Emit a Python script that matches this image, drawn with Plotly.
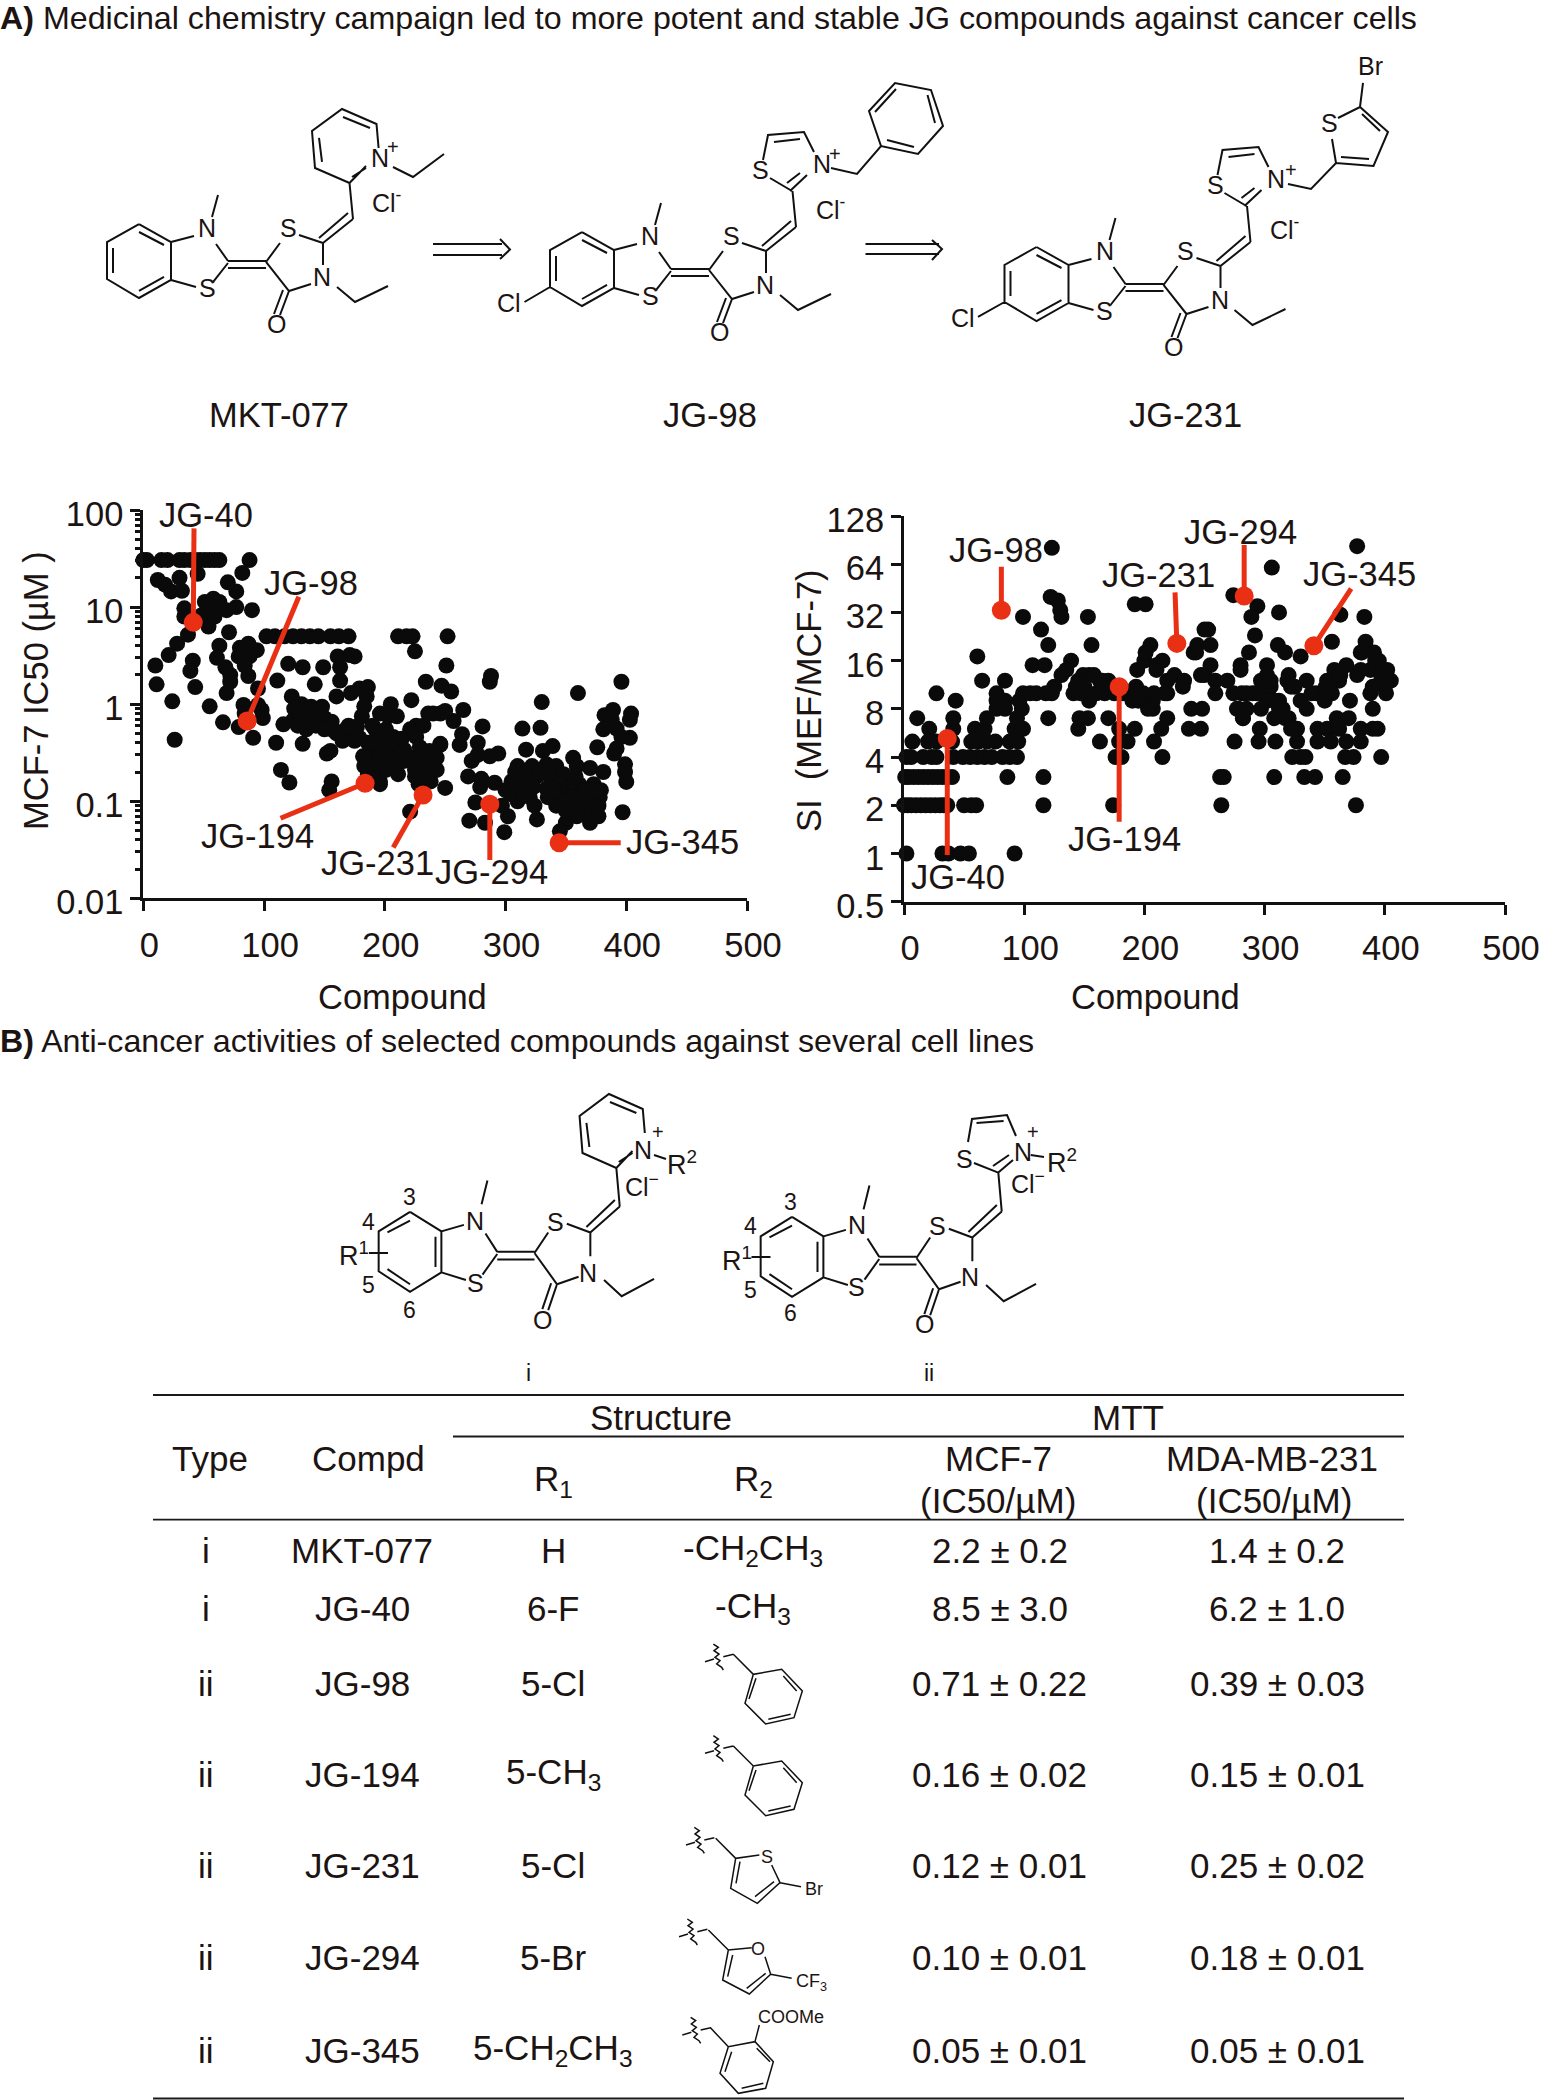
import math
import plotly.graph_objects as go

W, H = 1546, 2100
FONT = "Liberation Sans"
INK = "#1c1412"
RED = "#e92f14"

# ---------- chart data ----------
mcf7_compound = [
 0,3,15,20,30,34,39,43,47,51,55,59,63,88,
 30,45,82,12,18,23,32,70,77,
 34,34,51,58,63,57,59,69,77,90,54,48,
 37,28,21,10,11,24,41,39,43,26,55,66,79,91,
 102,109,117,124,131,138,145,155,162,170,
 71,63,61,68,72,72,69,80,87,94,79,88,84,87,95,83,95,99,98,84,
 120,132,149,111,142,160,123,131,139,148,127,135,124,116,141,150,156,148,157,166,171,155,152,110,132,114,121,156,154,
 161,171,175,163,163,172,179,186,185,183,181,177,
 211,218,223,225,
 234,247,222,205,196,203,210,236,246,226,221,232,192,201,194,207,214,188,197,207,226,229,237,246,
 182,190,201,212,222,233,243,183,193,201,225,233,243,196,225,234,221,
 252,251,255,288,287,396,330,360,265,250,240,257,281,314,329,264,262,277,317,246,331,339,376,294,287,272,277,
 310,322,334,342,356,359,370,381,269,280,291,305,315,326,338,350,361,373,379,250,279,312,323,334,346,359,370,
 275,305,310,324,342,353,367,375,297,302,299,270,283,326,350,359,370,377,345,397,
 389,382,404,388,403,381,392,403,396,390,392,399,399,400,
 186,191,196,201,206,211,216,186,191,196,206,216,228,238,232,240,
 308,318,328,338,348,358,368,378,
 300,304,345,350,355,363,372,377,
 125,130,137,143,150,160,135,128,143,165,175,170,190,179,
 315,320,335,345,355,365,375,360,350,340,
]
mcf7_ic50 = [
 30.5,30.5,30.5,30.5,30.5,30.5,30.5,30.5,30.5,30.5,30.5,30.5,30.5,30.5,
 20,22,22.5,19,17,14.5,14.7,18,14.5,
 9.7,8,11.3,12.2,11.3,9.3,8,9.3,10,9.3,6.3,8.2,
 5.2,4.2,3.2,2.5,1.6,1.07,2.8,2.2,1.5,0.43,0.95,0.65,0.58,0.45,
 5,5,5,5,5,5,5,5,5,5,
 5.5,4,3,2.4,2,1.7,1.3,3.8,4.2,3.6,3.1,3.1,2.5,1.95,1.45,0.98,0.98,0.72,0.87,0.8,
 2.6,2.4,2.4,1.75,1.6,1.2,1.2,1,0.94,0.94,0.8,0.8,0.68,0.62,0.65,0.72,0.66,0.59,0.54,0.53,0.53,0.33,0.31,0.4,0.39,0.21,0.156,0.16,0.13,
 3.1,3.2,3.1,2.4,1.75,1.3,1.45,1.5,1.2,0.95,0.75,0.59,
 5,5,5,3.5,
 1.7,1.55,1.1,1,0.8,0.75,0.75,0.8,0.8,0.6,0.55,0.6,0.55,0.55,0.45,0.46,0.44,0.33,0.33,0.33,0.46,0.36,0.33,0.38,
 0.29,0.27,0.28,0.29,0.28,0.29,0.28,0.23,0.21,0.21,0.21,0.21,0.21,0.16,0.18,0.18,0.078,
 5,2.5,1.35,1.95,1.7,1.7,1.05,1.3,0.87,0.85,0.8,0.67,0.59,0.56,0.57,0.49,0.38,0.4,0.34,0.39,0.33,0.37,0.36,0.31,0.29,0.26,0.3,
 0.23,0.23,0.24,0.23,0.28,0.23,0.22,0.2,0.18,0.17,0.155,0.16,0.17,0.18,0.165,0.15,0.15,0.15,0.13,0.137,0.14,0.135,0.14,0.135,0.12,0.135,0.12,
 0.097,0.118,0.1,0.09,0.09,0.095,0.09,0.1,0.09,0.07,0.048,0.063,0.06,0.065,0.06,0.07,0.06,0.07,0.049,0.077,
 0.87,0.77,0.8,0.69,0.69,0.55,0.56,0.45,0.46,0.31,0.35,0.24,0.2,0.158,
 0.19,0.24,0.3,0.37,0.24,0.19,0.34,0.4,0.17,0.15,0.42,0.26,0.15,0.16,0.23,0.23,
 0.2,0.2,0.2,0.19,0.19,0.18,0.11,0.11,
 0.13,0.12,0.15,0.08,0.11,0.075,0.08,0.09,
 0.9,0.75,0.7,0.6,0.55,0.5,0.55,0.6,0.8,0.42,0.42,0.6,0.6,0.45,
 0.12,0.11,0.11,0.15,0.11,0.13,0.13,0.09,0.1,0.13,
]
mcf7_hit_names = ["JG-40","JG-98","JG-194","JG-231","JG-294","JG-345"]
mcf7_hit_compound = [41.4,86,183.7,231.7,287,344.4]
mcf7_hit_ic50 = [6.96,0.67,0.153,0.116,0.093,0.0374]
mcf7_lead_compound = [42,128.8,113.7,207,287,395.4]
mcf7_lead_ic50 = [64.7,12.8,0.0667,0.0333,0.0248,0.0374]

si_compound = [
 2,32,37,47,54,92,
 0,3,6,10,14,18,22,26,30,33,36,50,56,60,116,174,
 1,4,8,12,16,20,24,28,32,36,40,86,116,
 2,6,16,23,27,41,49,55,61,67,73,82,88,94,181,176,215,
 7,20,27,40,56,62,69,76,88,95,163,186,179,208,
 21,41,59,67,92,99,145,179,192,214,
 11,41,69,94,120,146,153,170,219,
 77,84,98,207,239,248,
 43,77,84,96,154,201,207,
 27,77,99,105,110,123,141,147,160,167,175,182,190,199,208,219,
 123,122,128,130,131,99,114,120,153,156,61,65,84,107,117,192,201,
 139,135,131,125,118,154,149,163,170,179,143,193,219,225,233,232,
 194,200,215,205,201,210,250,241,244,250,217,210,
 237,247,
 377,306,274,294,289,312,363,383,253,243,255,292,311,317,330,356,384,380,391,395,402,287,280,280,302,302,255,247,259,269,320,335,322,330,335,343,351,350,358,368,362,377,388,400,388,401,371,390,
 259,274,281,290,305,298,312,278,285,297,282,315,320,326,296,295,309,275,327,
 344,352,360,370,362,380,390,394,344,355,368,380,
 323,330,334,367,374,397,263,266,308,333,342,365,264,376,
 145,150,158,165,172,186,195,190,203,
 308,312,317,322,327,308,302,282,277,293,285,297,305,319,325,339,356,352,363,380,393,397,405,392,381,390,
]
si_ratio = [
 1,1,1,1,1,1,
 2,2,2,2,2,2,2,2,2,2,2,2,2,2,2,2,
 3,3,3,3,3,3,3,3,3,3,3,3,3,
 4,4,4,4,4,4,4,4,4,4,4,4,4,4,4,4,4,
 5,5,5,5,5,5,5,5,5,5,5,5,5,5,
 6,6,6,6,6,6,6,6,6,6,
 7,7,7,7,7,7,7,7,7,
 8,8,8,8,8,8,
 9,9,9,9,9,9,9,
 10,10,10,10,10,10,10,10,10,10,10,10,10,10,10,10,
 81,40,38,33,30,30,25,20,30,20,17,12,12,15,15,36,36,
 16,14,13,11,10,13,13,12,12,11,11,11,12,13,12,11,
 14,16,16,20,18,15,25,18,20,13,10,14,
 6,6,
 83,61,41,35,30,32,31,30,25,18,20,23,20,18,17,21,21,18,18,16,14,18,15,14,15,13,15,13,12,12,13,12,11,9,8,10,11,9,14,15,12,13,14,11,10,10,9,8,
 10,10,10,10,11,10,9,8,8,8,7,8,7,6,6,5,5,5,5,
 6,6,7,7,6,6,6,6,5,5,5,5,
 4,4,4,4,4,4,3,3,3,3,3,3,2,2,
 12,11,13,12,11,10,9,9,8,
 9,8,7,6,6,7,9,7,8,10,10,12,12,12,11,10,10,12,13,14,14,12,12,16,18,11,
]
si_hit_names = ["JG-40","JG-98","JG-194","JG-231","JG-294","JG-345"]
si_hit_compound = [36,81,179,227,283,341]
si_hit_ratio = [5.23,33,11,20.5,40.5,19.8]
si_lead_compound = [36,81,179,225.5,283,372]
si_lead_ratio = [0.98,61.8,1.58,42.7,84.5,45]

compound_ticks = [0,100,200,300,400,500]
mcf7_ticks = [100,10,1,0.1,0.01]
si_ticks = [128,64,32,16,8,4,2,1,0.5]

# ---------- table ----------
tbl_type = ["i","i","ii","ii","ii","ii","ii"]
tbl_compd = ["MKT-077","JG-40","JG-98","JG-194","JG-231","JG-294","JG-345"]
tbl_r1 = ["H","6-F","5-Cl","5-CH<sub>3</sub>","5-Cl","5-Br","5-CH<sub>2</sub>CH<sub>3</sub>"]
tbl_r2 = ["-CH<sub>2</sub>CH<sub>3</sub>","-CH<sub>3</sub>","","","","",""]
tbl_mcf7 = ["2.2 ± 0.2","8.5 ± 3.0","0.71 ± 0.22","0.16 ± 0.02","0.12 ± 0.01","0.10 ± 0.01","0.05 ± 0.01"]
tbl_mda = ["1.4 ± 0.2","6.2 ± 1.0","0.39 ± 0.03","0.15 ± 0.01","0.25 ± 0.02","0.18 ± 0.01","0.05 ± 0.01"]

# ---------- page helpers ----------
annotations, shapes = [], []
def px(x): return x / W
def py(y): return 1 - y / H

def txt(x, y, s, size=34.5, anchor="center", color=INK, angle=0):
    annotations.append(dict(x=px(x), y=py(y), xref="paper", yref="paper", text=s, showarrow=False,
                            xanchor=anchor, yanchor="middle", textangle=angle,
                            font=dict(family=FONT, size=size, color=color), borderpad=0, borderwidth=0))

def draw(polys, width=2, color="#111111"):
    d = ""
    for p in polys:
        d += "M" + " L".join(f"{px(a):.5f},{py(b):.5f}" for a, b in p) + " "
    shapes.append(dict(type="path", xref="paper", yref="paper", path=d,
                       line=dict(color=color, width=width), layer="above"))

def place(polys, ox=0, oy=0, sx=1, sy=1):
    return [[(ox + sx * a, oy + sy * b) for a, b in p] for p in polys]

# molecule templates: page pixels of the MKT-077 drawing
CORE = [
 [(139,224),(171,242),(171,280),(139,298),(107,279),(107,242),(139,224)],
 [(171,242),(194,236)], [(171,280),(196,287)], [(212,217),(218,195)],
 [(216,244),(228,261)], [(213,282),(228,263)],
 [(228,261),(266,261)], [(228,268),(266,268)],
 [(266,262),(280,243)], [(299,235),(323,243),(323,265)],
 [(311,284),(289,291),(266,262)], [(289,291),(280,315)], [(283,290),(274,314)],
 [(337,287),(355,302),(388,286)],
 [(323,243),(353,219)], [(319,238),(348,213)],
 [(353,219),(349.5,183)],
]
INNER_A = [[(139,232),(164,245)], [(113,248),(113,273)], [(139,291),(164,277)]]
INNER_B = [[(116,243),(139,232)], [(165,247),(165,275)], [(116,277),(139,291)]]
PYRIDINE = [
 [(366,166),(349.5,183),(315,168),(312,131),(342,109),(376.5,124),(378.6,148)],
 [(319,138),(322,162)], [(343,117),(370,128)], [(352,177),(366,168)],
]
THIAZOLE = [
 [(792,191),(770,178)], [(763,160),(768,135),(804,132),(814,152)],
 [(807,175),(790,191)], [(774,142),(800,139)], [(800,173),(787,183)],
]

def wave(ox, oy):
    pts = [(340,72),(355,82),(342,92),(357,102),(345,112),(360,122),(350,132),(365,142),(370,150)]
    return [[(a + ox, b + oy) for a, b in pts], [(315 + ox, 125 + oy), (342 + ox, 117 + oy)], [(370 + ox, 110 + oy), (400 + ox, 103 + oy)]]

# MKT-077
draw(CORE + INNER_A + PYRIDINE + [[(393,167),(413,177),(444,154)]])
# JG-98
draw(place(CORE + INNER_A, 443, 8) + THIAZOLE + [[(524.5,302),(550,287)]] + [
 [(831,168),(857,174),(881,146),(918,154),(943,126),(931,90),(895,83),(869,111),(881,146)],
 [(887,140),(914,147)], [(927.5,95),(935,123)], [(896,89),(875,112)],
])
# JG-231
draw(place(CORE + INNER_A, 897.5, 23) + place(THIAZOLE, 454.5, 15) + [[(978,317),(1004.5,302)]] + [
 [(1288,184),(1311,189),(1336,163),(1373.5,166),(1388,132),(1360,107),(1338,118)],
 [(1336,163),(1332,139)], [(1341,157),(1369,159)], [(1362,114),(1380,131)], [(1360,107),(1363,83)],
])
# arrows
draw([[(433,244),(502,244)], [(433,255),(502,255)], [(500,239),(510,249.5),(500,259)],
      [(865.5,244),(939,244)], [(865.5,254),(939,254)], [(932,240),(942,249),(932,260)]])
# general structures i / ii
draw(place(CORE + INNER_B, 273.8, 970, 0.98, 1.08) + place(PYRIDINE, 273.8, 985, 0.98, 1) +
     [[(654,1155),(666,1159)], [(369,1253),(388,1253)]])
draw(place(CORE + INNER_B, 655.8, 975, 0.98, 1.08) + [
 [(998.3,1172.6),(974,1163)], [(968,1142),(972,1119),(1007,1115),(1016,1136)],
 [(998.3,1172.6),(1013,1160)], [(976.5,1123),(1003.6,1121)], [(993,1166),(1009,1155)],
 [(1030.7,1155),(1044,1157)], [(751.5,1257),(770.5,1257)],
])
# R2 substituents
s6 = lambda polys: place(polys, 600, 1620, 1/3, 1/3)
benzyl = [[(400,103),(460,163),(545,148),(607,213),(582,293),(497,312),(435,250),(460,163)],
          [(447,237),(468,175)], [(550,168),(590,213)], [(572,283),(505,298)]]
draw(s6(wave(0,0) + benzyl), 1.5)
draw(s6(wave(0,275) + place(benzyl,0,275)), 1.5)
draw(s6(wave(-57,550) + [[(347,655),(407,715),(478,705)], [(515,735),(540,788),(472,850),(392,805),(407,715)],
        [(420,725),(408,790)], [(465,830),(522,785)], [(540,788),(603,800)]]), 1.5)
draw(s6(wave(-78,825) + [[(325,930),(385,990),(455,983)], [(495,1010),(512,1063),(448,1122),(368,1080),(385,990)],
        [(398,1005),(383,1070)], [(440,1105),(497,1060)], [(512,1063),(575,1075)]]), 1.5)
draw(s6(wave(-68,1120) + [[(330,1222),(385,1280),(465,1265),(520,1325),(497,1405),(415,1420),(360,1360),(385,1280)],
        [(395,1295),(375,1355)], [(470,1285),(510,1325)], [(425,1405),(490,1390)], [(465,1265),(478,1215)]]), 1.5)

# atom labels
A = 25
N = 23
for dx, dy in [(0,0),(443,8),(897.5,23)]:
    txt(207+dx,228+dy,"N",A); txt(207+dx,288+dy,"S",A); txt(288+dx,228+dy,"S",A)
    txt(322+dx,277+dy,"N",A); txt(276+dx,324+dy,"O",A)
txt(380,158,"N",A); txt(393,147,"+",20)
txt(387,201,"Cl<sup>-</sup>",A)
txt(509,303,"Cl",A); txt(760,170,"S",A); txt(821.5,164,"N",A); txt(835,154,"+",20); txt(831,208,"Cl<sup>-</sup>",A)
txt(963,318,"Cl",A); txt(1215,185,"S",A); txt(1276,179,"N",A); txt(1290.5,170,"+",20); txt(1285,228,"Cl<sup>-</sup>",A)
txt(1329,123,"S",A); txt(1370,66,"Br",A)
for lab, x in [("MKT-077",279),("JG-98",710),("JG-231",1185.5)]:
    txt(x,415,lab)
for dx, dy in [(0,0),(382,4)]:
    txt(475+dx,1221+dy,"N",A); txt(475+dx,1283+dy,"S",A); txt(555+dx,1222+dy,"S",A)
    txt(588+dx,1273+dy,"N",A); txt(542+dx,1320+dy,"O",A)
txt(643,1150,"N",A); txt(658,1132,"+",20); txt(682,1163,"R<sup>2</sup>",27); txt(642,1185,"Cl<sup>−</sup>",A)
txt(409,1197,"3",N); txt(368,1222,"4",N); txt(354,1254,"R<sup>1</sup>",27); txt(368,1285,"5",N); txt(409,1310,"6",N)
txt(528,1373,"i",N)
txt(964.6,1159,"S",A); txt(1022.5,1152,"N",A); txt(1033.4,1132,"+",20); txt(1062,1161,"R<sup>2</sup>",27); txt(1028,1182,"Cl<sup>−</sup>",A)
txt(790.6,1202,"3",N); txt(750,1226,"4",N); txt(737,1259,"R<sup>1</sup>",27); txt(750,1290,"5",N); txt(790.6,1313,"6",N)
txt(929,1373,"ii",N)
S = 18
txt(766.7,1857,"S",S); txt(814,1889,"Br",S)
txt(758,1949,"O",S); txt(811,1982,"CF<sub>3</sub>",S)
txt(791,2017,"COOMe",S)

# section headings
txt(0,1041,"<b>B)</b> Anti-cancer activities of selected compounds against several cell lines",32.2,"left")

# scatter annotations
for n, (x, y) in zip(mcf7_hit_names, [(206,515),(311,583),(257,836),(377,863),(491,872),(682,842)]):
    txt(x, y, n)
for n, (x, y) in zip(si_hit_names, [(958,877),(996,550),(1124,839),(1158,575),(1240,532),(1359,574)]):
    txt(x, y, n)
txt(36,691,"MCF-7 IC50 (µM )",34.5,angle=-90)
txt(809,701,"SI  (MEF/MCF-7)",34.5,angle=-90)
txt(403,997,"Compound"); txt(1155,997,"Compound")

# table
T = 35
for y, x0 in [(1395,153),(1436.5,453),(1519.6,153),(2098.5,153)]:
    shapes.append(dict(type="line", xref="paper", yref="paper", x0=px(x0), x1=px(1404), y0=py(y), y1=py(y),
                       line=dict(color="#1a1a1a", width=1.8)))
txt(210,1458,"Type",T); txt(368,1458,"Compd",T); txt(661,1417,"Structure",T); txt(1127.5,1417,"MTT",T)
txt(553,1481,"R<sub>1</sub>",T); txt(753.6,1481,"R<sub>2</sub>",T)
txt(998,1458,"MCF-7",T); txt(998,1500,"(IC50/µM)",T); txt(1272,1458,"MDA-MB-231",T); txt(1274,1500,"(IC50/µM)",T)
rows_y = [1550,1608,1683,1774,1865,1957,2050]
for i, y in enumerate(rows_y):
    txt(206,y,tbl_type[i],T); txt(362,y,tbl_compd[i],T); txt(553,y,tbl_r1[i],T)
    if tbl_r2[i]:
        txt(753,y,tbl_r2[i],T)
    txt(1000,y,tbl_mcf7[i],T); txt(1277,y,tbl_mda[i],T)

# ---------- figure ----------
fig = go.Figure()
def scatter(x, y, ax, ay, hx, hy, lx, ly):
    fig.add_trace(go.Scatter(x=x, y=y, mode="markers", xaxis=ax, yaxis=ay, cliponaxis=False,
                             marker=dict(size=16, color="#0a0a0a", line=dict(width=0))))
    for a, b, c, d in zip(hx, hy, lx, ly):
        fig.add_trace(go.Scatter(x=[a, c], y=[b, d], mode="lines", xaxis=ax, yaxis=ay, cliponaxis=False,
                                 line=dict(color=RED, width=5)))
    fig.add_trace(go.Scatter(x=hx, y=hy, mode="markers", xaxis=ax, yaxis=ay, cliponaxis=False,
                             marker=dict(size=19, color=RED, line=dict(width=0))))
scatter(mcf7_compound, mcf7_ic50, "x", "y", mcf7_hit_compound, mcf7_hit_ic50, mcf7_lead_compound, mcf7_lead_ic50)
scatter(si_compound, si_ratio, "x2", "y2", si_hit_compound, si_hit_ratio, si_lead_compound, si_lead_ratio)

def xax(d0, d1, anchor):
    return dict(domain=[px(d0), px(d1)], range=[0, 500], anchor=anchor, tickmode="array", tickvals=compound_ticks,
                ticktext=[str(v) for v in compound_ticks], showline=True, linecolor="#111", linewidth=3,
                ticks="outside", ticklen=10, tickwidth=3, tickcolor="#111", showgrid=False, zeroline=False,
                automargin=False,
                tickfont=dict(family=FONT, size=34.5, color=INK), ticklabelstandoff=4, ticklabelshift=6)
def yax(d0, d1, anchor, rng, vals):
    return dict(domain=[py(d1), py(d0)], type="log", range=rng, anchor=anchor, tickmode="array", tickvals=vals,
                ticktext=[str(v) for v in vals], showline=True, linecolor="#111", linewidth=3,
                ticks="outside", ticklen=10, tickwidth=3, tickcolor="#111", showgrid=False, zeroline=False,
                automargin=False,
                tickfont=dict(family=FONT, size=34.5, color=INK), ticklabelstandoff=0, ticklabelshift=4)
minor_vals = [m * 10 ** e for e in (-2, -1, 0, 1) for m in range(2, 10)]
y1 = yax(510, 898.3, "x", [-2, 2], mcf7_ticks)
y1["minor"] = dict(ticks="outside", ticklen=5, tickwidth=2.5, tickcolor="#111", tickvals=minor_vals, showgrid=False)
fig.update_layout(
    template="none",
    width=W, height=H, autosize=False, margin=dict(l=0, r=0, t=0, b=0, pad=0), showlegend=False,
    paper_bgcolor="white", plot_bgcolor="white", font=dict(family=FONT, color=INK),
    title=dict(text="<b>A)</b> Medicinal chemistry campaign led to more potent and stable JG compounds against cancer cells",
               x=0, xanchor="left", xref="paper", y=py(18), yref="paper", yanchor="middle",
               font=dict(family=FONT, size=32.2, color=INK), automargin=False),
    xaxis=xax(143.3, 747, "y"), yaxis=y1,
    xaxis2=xax(904, 1505, "y2"),
    yaxis2=yax(516, 901.7, "x2", [math.log10(0.5), math.log10(128)], si_ticks),
    annotations=annotations, shapes=shapes,
)
fig.write_html("out.html", config={"displayModeBar": False},
               post_script="document.body.style.margin='0';document.body.style.padding='0';")
